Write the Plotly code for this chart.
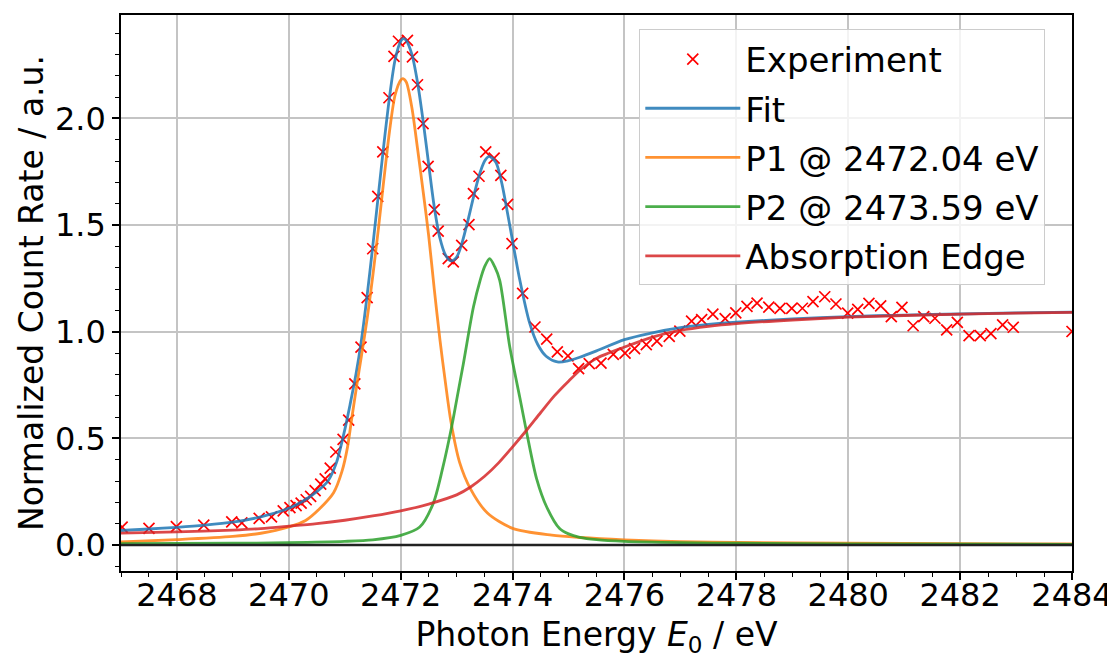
import plotly.graph_objects as go

# ---------------- data ----------------
exp_x = [2467.02, 2467.50, 2467.99, 2468.48, 2468.98, 2469.16, 2469.47, 2469.69, 2469.90,
         2470.02, 2470.13, 2470.22, 2470.31, 2470.39, 2470.47, 2470.57, 2470.65, 2470.74,
         2470.84, 2470.97, 2471.07, 2471.18, 2471.29, 2471.40, 2471.50, 2471.59, 2471.68,
         2471.79, 2471.88, 2471.96, 2472.12, 2472.21, 2472.30, 2472.40, 2472.49, 2472.60,
         2472.67, 2472.85, 2472.94, 2473.09, 2473.22, 2473.30, 2473.40, 2473.52, 2473.67,
         2473.79, 2473.91, 2473.99, 2474.18, 2474.40, 2474.61, 2474.80, 2474.99, 2475.18,
         2475.37, 2475.58, 2475.80, 2476.01, 2476.18, 2476.39, 2476.58, 2476.80, 2476.99,
         2477.20, 2477.38, 2477.58, 2477.80, 2477.99, 2478.19, 2478.37, 2478.58, 2478.78,
         2478.99, 2479.18, 2479.37, 2479.58, 2479.78, 2479.99, 2480.17, 2480.37, 2480.58,
         2480.77, 2480.96, 2481.16, 2481.35, 2481.55, 2481.76, 2481.95, 2482.16, 2482.36,
         2482.55, 2482.76, 2482.95, 2484.00]
exp_y = [0.084, 0.078, 0.086, 0.093, 0.108, 0.104, 0.125, 0.132, 0.160,
         0.175, 0.185, 0.196, 0.212, 0.228, 0.255, 0.285, 0.310, 0.360,
         0.436, 0.495, 0.585, 0.755, 0.928, 1.160, 1.389, 1.635, 1.843,
         2.097, 2.291, 2.362, 2.366, 2.289, 2.158, 1.976, 1.775, 1.572,
         1.472, 1.343, 1.327, 1.405, 1.502, 1.647, 1.729, 1.843, 1.814,
         1.733, 1.597, 1.413, 1.180, 1.022, 0.965, 0.905, 0.887, 0.827,
         0.850, 0.853, 0.894, 0.900, 0.921, 0.939, 0.956, 0.978, 1.003,
         1.050, 1.057, 1.082, 1.061, 1.088, 1.119, 1.134, 1.115, 1.109,
         1.109, 1.110, 1.141, 1.164, 1.130, 1.087, 1.105, 1.133, 1.121,
         1.071, 1.114, 1.028, 1.071, 1.063, 1.009, 1.044, 0.982, 0.982,
         0.991, 1.032, 1.021, 1.001]

fit_x = [2467.0, 2467.5, 2468.0, 2468.5, 2469.0, 2469.5, 2470.0, 2470.25, 2470.5, 2470.7,
         2470.85, 2471.0, 2471.1, 2471.2, 2471.3, 2471.4, 2471.5, 2471.6, 2471.7, 2471.8,
         2471.9, 2472.0, 2472.05, 2472.1, 2472.2, 2472.3, 2472.4, 2472.5, 2472.6, 2472.7,
         2472.8, 2472.9, 2473.0, 2473.1, 2473.2, 2473.3, 2473.4, 2473.5, 2473.58, 2473.7,
         2473.8, 2473.9, 2474.0, 2474.13, 2474.3, 2474.45, 2474.6, 2474.8, 2475.0, 2475.2,
         2475.5, 2476.0, 2476.5, 2477.0, 2477.5, 2478.0, 2479.0, 2480.0, 2481.0, 2482.0,
         2483.0, 2484.0]
fit_y = [0.068, 0.075, 0.083, 0.093, 0.107, 0.132, 0.172, 0.205, 0.250, 0.300,
         0.385, 0.540, 0.665, 0.800, 0.965, 1.170, 1.400, 1.640, 1.880, 2.100,
         2.275, 2.362, 2.374, 2.365, 2.300, 2.170, 1.990, 1.785, 1.585, 1.440,
         1.360, 1.332, 1.350, 1.420, 1.520, 1.630, 1.730, 1.800, 1.822, 1.795,
         1.705, 1.570, 1.425, 1.241, 1.045, 0.940, 0.885, 0.858, 0.864, 0.880,
         0.910, 0.963, 0.995, 1.019, 1.034, 1.045, 1.060, 1.071, 1.078, 1.083,
         1.088, 1.092]

p1_x = [2467.0, 2468.0, 2469.0, 2469.5, 2470.0, 2470.3, 2470.55, 2470.8, 2470.95, 2471.05,
        2471.12, 2471.21, 2471.3, 2471.4, 2471.5, 2471.6, 2471.7, 2471.8, 2471.9, 2472.0,
        2472.04, 2472.1, 2472.2, 2472.3, 2472.4, 2472.5, 2472.6, 2472.7, 2472.8, 2472.9,
        2473.05, 2473.25, 2473.55, 2474.0, 2474.7, 2475.2, 2476.0, 2477.0, 2478.0, 2480.0,
        2482.0, 2484.0]
p1_y = [0.014, 0.025, 0.040, 0.055, 0.085, 0.115, 0.170, 0.245, 0.345, 0.460,
        0.585, 0.741, 0.890, 1.060, 1.260, 1.480, 1.715, 1.940, 2.110, 2.180,
        2.187, 2.170, 2.050, 1.860, 1.660, 1.450, 1.200, 0.965, 0.760, 0.575,
        0.390, 0.262, 0.150, 0.078, 0.046, 0.035, 0.024, 0.016, 0.012, 0.008,
        0.006, 0.005]

p2_x = [2467.0, 2469.0, 2470.0, 2471.0, 2471.5, 2472.0, 2472.34, 2472.58, 2472.75, 2472.91,
        2473.0, 2473.12, 2473.3, 2473.42, 2473.5, 2473.59, 2473.68, 2473.77, 2473.95, 2474.13,
        2474.25, 2474.43, 2474.61, 2474.84, 2475.0, 2475.2, 2475.5, 2476.0, 2477.0, 2478.0,
        2480.0, 2484.0]
p2_y = [0.006, 0.008, 0.011, 0.017, 0.024, 0.045, 0.084, 0.194, 0.360, 0.553,
        0.680, 0.850, 1.116, 1.241, 1.305, 1.343, 1.305, 1.241, 0.928, 0.690,
        0.530, 0.310, 0.178, 0.077, 0.052, 0.036, 0.025, 0.017, 0.011, 0.008,
        0.005, 0.003]

edge_x = [2467.0, 2468.0, 2469.0, 2469.5, 2470.0, 2470.5, 2471.0, 2471.5, 2472.0, 2472.5,
          2473.0, 2473.25, 2473.5, 2473.75, 2474.0, 2474.25, 2474.5, 2474.75, 2475.0, 2475.25,
          2475.5, 2476.0, 2476.5, 2477.0, 2477.5, 2478.0, 2479.0, 2480.0, 2481.0, 2482.0,
          2483.0, 2484.0]
edge_y = [0.056, 0.061, 0.070, 0.077, 0.088, 0.100, 0.116, 0.136, 0.160, 0.192,
          0.235, 0.272, 0.322, 0.385, 0.460, 0.538, 0.620, 0.700, 0.768, 0.830,
          0.875, 0.928, 0.975, 1.006, 1.025, 1.038, 1.055, 1.068, 1.076, 1.082,
          1.087, 1.091]

zero_x = [2467.0, 2484.0]
zero_y = [0.0, 0.0]

labels = ["Experiment", "Fit", "P1 @ 2472.04 eV", "P2 @ 2473.59 eV", "Absorption Edge"]
x_range = [2467, 2484]
y_range = [-0.122, 2.485]

# ---------------- figure ----------------
# The page body has an 8 px margin, so the figure is offset by 8 px
FONT = "DejaVu Sans"
fig = go.Figure()

fig.add_trace(go.Scatter(x=exp_x, y=exp_y, mode="markers", name=labels[0], legendgroup="a",
                         marker=dict(symbol="x-thin", size=11, color="red",
                                     line=dict(color="red", width=1.7))))
fig.add_trace(go.Scatter(x=fit_x, y=fit_y, mode="lines", name=labels[1], legendgroup="b",
                         line=dict(color="rgba(31,119,180,0.85)", width=2.8, shape="spline", smoothing=0.8)))
fig.add_trace(go.Scatter(x=p1_x, y=p1_y, mode="lines", name=labels[2], legendgroup="c",
                         line=dict(color="rgba(255,127,14,0.85)", width=2.8, shape="spline", smoothing=0.8)))
fig.add_trace(go.Scatter(x=p2_x, y=p2_y, mode="lines", name=labels[3], legendgroup="d",
                         line=dict(color="rgba(44,160,44,0.85)", width=2.8, shape="spline", smoothing=0.8)))
fig.add_trace(go.Scatter(x=edge_x, y=edge_y, mode="lines", name=labels[4], legendgroup="e",
                         line=dict(color="rgba(214,39,40,0.85)", width=2.8, shape="spline", smoothing=0.8)))
fig.add_trace(go.Scatter(x=zero_x, y=zero_y, mode="lines", showlegend=False,
                         line=dict(color="#222222", width=2.5)))

axis_common = dict(showline=True, mirror=True, linecolor="black", linewidth=1.5,
                   ticks="outside", ticklen=7, tickwidth=1.5, tickcolor="black",
                   showgrid=True, gridcolor="#c4c4c4", gridwidth=1.5, zeroline=False,
                   automargin=False, ticklabeloverflow="allow",
                   tickfont=dict(family=FONT, size=32, color="black"))

fig.update_layout(
    width=1107, height=650,
    margin=dict(l=113, r=43, t=7, b=87),
    paper_bgcolor="white", plot_bgcolor="white",
    font=dict(family=FONT, color="black"),
    showlegend=True,
    legend=dict(x=0.545, y=0.974, xanchor="left", yanchor="top",
                bgcolor="rgba(255,255,255,0.8)", bordercolor="#cccccc", borderwidth=1,
                font=dict(family=FONT, size=34, color="black"),
                tracegroupgap=2, itemwidth=95),
    xaxis=dict(range=x_range, dtick=2, tick0=2468,
               ticklabelstandoff=-12,
               title=dict(text="Photon Energy <i>E</i><sub>0</sub> / eV",
                          font=dict(family=FONT, size=33, color="black"), standoff=12),
               minor=dict(dtick=0.5, ticks="outside", ticklen=4, tickwidth=1.2,
                          tickcolor="black", showgrid=False),
               **axis_common),
    yaxis=dict(range=y_range, dtick=0.5, tick0=0, tickformat=".1f",
               title=dict(text="Normalized Count Rate / a.u.",
                          font=dict(family=FONT, size=33, color="black"), standoff=1),
               minor=dict(dtick=0.1, ticks="outside", ticklen=4, tickwidth=1.2,
                          tickcolor="black", showgrid=False),
               **axis_common),
)

fig.write_html("out.html")
